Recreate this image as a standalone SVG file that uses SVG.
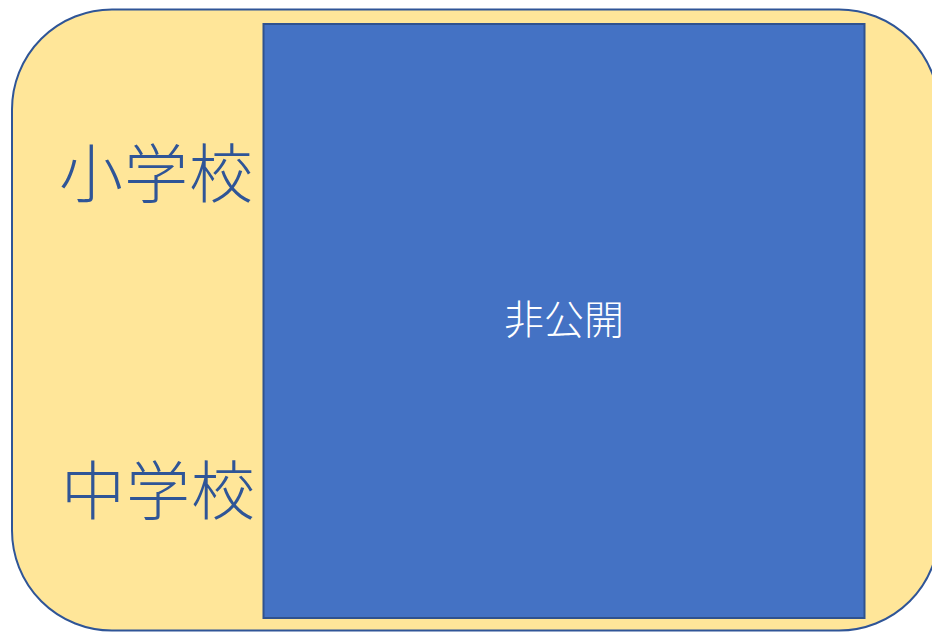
<svg xmlns="http://www.w3.org/2000/svg" width="932" height="632" viewBox="0 0 932 632">
<style>
.lbl{font-family:"Noto Sans CJK JP","Noto Sans CJK SC",sans-serif;font-weight:300;fill:#2F5597;font-size:64px;letter-spacing:1px}
.inner{font-family:"Noto Sans CJK JP","Noto Sans CJK SC",sans-serif;font-weight:300;fill:#FFFFFF;font-size:40px}
</style>
<rect width="932" height="632" fill="#FFFFFF"/>
<g id="outer">
<rect x="12" y="9.5" width="927" height="621" rx="100" ry="100" fill="#FFE699" stroke="#2F5597" stroke-width="2"/>
<text class="lbl" x="59" y="197">小学校</text>
<text class="lbl" x="61" y="514">中学校</text>
</g>
<g id="private">
<rect x="263.5" y="24" width="601" height="594" fill="#4472C4" stroke="#2F528F" stroke-width="2"/>
<text class="inner" x="564" y="334" text-anchor="middle">非公開</text>
</g>
<g id="connectors"/>
</svg>
